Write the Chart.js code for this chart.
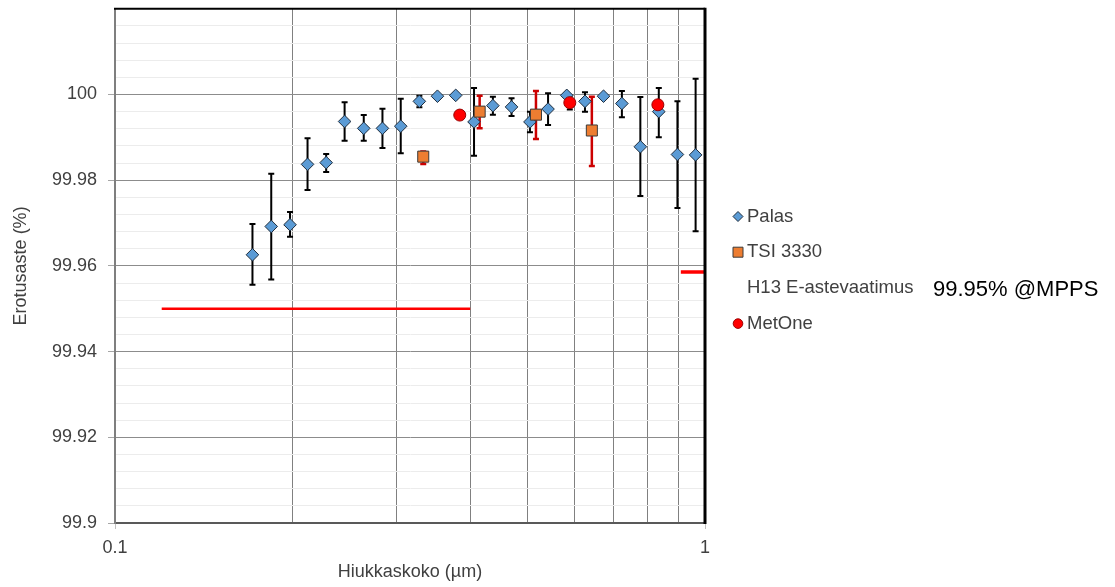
<!DOCTYPE html>
<html>
<head>
<meta charset="utf-8">
<script src="https://cdn.jsdelivr.net/npm/chart.js@4.4.1/dist/chart.umd.min.js"></script>
<style>
  body { margin: 0; background: #fff; }
  #wrap { width: 1115px; height: 587px; }
</style>
</head>
<body>
<div id="wrap"><canvas id="chart" width="1115" height="587"></canvas></div>
<script>
// particle size (µm) and efficiency (%)
const palasSize = [0.171, 0.184, 0.198, 0.212, 0.228, 0.245, 0.264, 0.284, 0.305, 0.328, 0.352, 0.378, 0.406,
    0.437, 0.470, 0.505, 0.542, 0.583, 0.626, 0.673, 0.723, 0.777, 0.835, 0.898, 0.964]
const palasEff = [99.9626, 99.9692, 99.9696, 99.9837, 99.9841, 99.9937, 99.9921, 99.9921, 99.9926, 99.9984, 99.9996,
    99.9998, 99.9936, 99.9974, 99.9971, 99.9936, 99.9966, 99.9998, 99.9984, 99.9996, 99.9979, 99.9878, 99.9960,
    99.9860, 99.9859]
const palasHigh = [99.9698, 99.9815, 99.9726, 99.9898, 99.9861, 99.9982, 99.9952, 99.9967, 99.9990, 99.9997, 99.9996,
    99.9998, 100.0015, 99.9995, 99.9991, 99.9960, 100.0003, 99.9998, 100.0005, 99.9996, 100.0008, 99.9994, 100.0015,
    99.9984, 100.0037]
const palasLow = [99.9556, 99.9568, 99.9668, 99.9777, 99.9819, 99.9892, 99.9892, 99.9875, 99.9863, 99.9970, 99.9996,
    99.9998, 99.9857, 99.9953, 99.9950, 99.9912, 99.9929, 99.9998, 99.9960, 99.9996, 99.9947, 99.9763, 99.9900,
    99.9735, 99.9681]

const tsiSize = [0.333, 0.415, 0.517, 0.643]
const tsiEff = [99.9855, 99.9960, 99.9953, 99.9916]
const tsiHigh = [99.9867, 99.9997, 100.0008, 99.9995]
const tsiLow = [99.9838, 99.9921, 99.9896, 99.9833]

const metSize = [0.384, 0.590, 0.832]
const metEff = [99.9952, 99.9981, 99.9976]
const metHigh = [99.9952, 99.9997, 99.9976]
const metLow = [99.9952, 99.9965, 99.9976]

const limitSize = [0.12, 0.4]
const limitEff = [99.95, 99.95]
const edgeSize = [0.91, 1]
const edgeEff = [99.9586, 99.9586]

const xTickValues = [0.1, 0.2, 0.3, 0.4, 0.5, 0.6, 0.7, 0.8, 0.9, 1]
const xLabelValues = [0.1, 1]
const yLabelValues = [99.9, 99.92, 99.94, 99.96, 99.98, 100]
const yMinorStep = 0.004

const FONT = "'Liberation Sans', Arial, sans-serif"
const TEXT = '#404040'

Chart.defaults.font.family = FONT
Chart.defaults.color = TEXT

const pts = (xs, ys) => xs.map((x, i) => ({ x: x, y: ys[i] }))

function isMajor(v) {
    return Math.abs(v * 50 - Math.round(v * 50)) < 1e-6
}

const yGridTicks = []
for (let v = 99.9; v <= 100.0201; v += yMinorStep) yGridTicks.push(Number(v.toFixed(3)))

const errorBars = {
    id: 'errorBars',
    beforeDatasetsDraw(chart) {
        const c = chart.ctx
        const xs = chart.scales.x, ys = chart.scales.y
        c.save()
        chart.data.datasets.forEach(ds => {
            if (!ds.errLow) return
            c.strokeStyle = ds.errColor
            c.lineWidth = ds.errWidth
            ds.data.forEach((p, i) => {
                const hi = ds.errHigh[i], lo = ds.errLow[i]
                if (hi - lo < 0.0002) return
                const x = xs.getPixelForValue(p.x)
                const y1 = ys.getPixelForValue(hi)
                const y2 = ys.getPixelForValue(lo)
                c.beginPath()
                c.moveTo(x, y1); c.lineTo(x, y2)
                c.moveTo(x - 3, y1); c.lineTo(x + 3, y1)
                c.moveTo(x - 3, y2); c.lineTo(x + 3, y2)
                c.stroke()
            })
        })
        c.restore()
    }
}

const frame = {
    id: 'frame',
    afterDatasetsDraw(chart) {
        const c = chart.ctx
        const { left, top, right, bottom } = chart.chartArea
        c.save()
        c.strokeStyle = '#000'
        c.lineWidth = 2
        c.beginPath(); c.moveTo(left - 1, top); c.lineTo(right, top); c.stroke()
        c.lineWidth = 3
        c.beginPath(); c.moveTo(right, top - 1); c.lineTo(right, bottom + 1); c.stroke()
        c.restore()
    }
}

const sideLegend = {
    id: 'sideLegend',
    afterDraw(chart) {
        const c = chart.ctx
        const items = chart.data.datasets.filter(d => d.legendRow !== undefined)
        c.save()
        items.forEach(ds => {
            const y = 216.5 + ds.legendRow * 35.7
            const x = 738
            c.fillStyle = ds.backgroundColor
            c.strokeStyle = ds.borderColor
            c.lineWidth = 1
            c.beginPath()
            if (ds.pointStyle === 'rectRot') {
                c.moveTo(x, y - 5); c.lineTo(x + 5, y); c.lineTo(x, y + 5); c.lineTo(x - 5, y); c.closePath()
            } else if (ds.pointStyle === 'rect') {
                c.rect(x - 5, y - 5, 10, 10)
            } else if (ds.pointStyle === 'circle') {
                c.arc(x, y, 4.8, 0, Math.PI * 2)
            }
            if (ds.pointRadius > 0) { c.fill(); c.stroke() }
            c.fillStyle = TEXT
            c.font = '18.5px ' + FONT
            c.textBaseline = 'middle'
            c.textAlign = 'left'
            c.fillText(ds.label, 747, y)
        })
        c.fillStyle = '#000'
        c.font = '22px ' + FONT
        c.textBaseline = 'middle'
        c.fillText('99.95% @MPPS', 933, 290)
        c.restore()
    }
}

new Chart(document.getElementById('chart'), {
    type: 'scatter',
    data: {
        datasets: [{
            label: 'Palas',
            legendRow: 0,
            data: pts(palasSize, palasEff),
            errHigh: palasHigh, errLow: palasLow, errColor: '#000', errWidth: 2,
            pointStyle: 'rectRot',
            pointRadius: 6.3,
            backgroundColor: '#5b9bd5',
            borderColor: '#1f2d3d',
            borderWidth: 1,
            order: 4
        }, {
            label: 'TSI 3330',
            legendRow: 1,
            data: pts(tsiSize, tsiEff),
            errHigh: tsiHigh, errLow: tsiLow, errColor: '#cc0000', errWidth: 2.5,
            pointStyle: 'rect',
            pointRadius: 7.8,
            backgroundColor: '#ed7d31',
            borderColor: '#3a3a3a',
            borderWidth: 1,
            order: 3
        }, {
            label: 'H13 E-astevaatimus',
            legendRow: 2,
            data: pts(limitSize, limitEff),
            showLine: true,
            pointRadius: 0,
            borderColor: '#ff0000',
            backgroundColor: '#ff0000',
            borderWidth: 2.5,
            order: 2
        }, {
            label: '',
            data: pts(edgeSize, edgeEff),
            showLine: true,
            pointRadius: 0,
            borderColor: '#ff0000',
            borderWidth: 3.5,
            order: 2
        }, {
            label: 'MetOne',
            legendRow: 3,
            data: pts(metSize, metEff),
            errHigh: metHigh, errLow: metLow, errColor: '#000', errWidth: 2,
            pointStyle: 'circle',
            pointRadius: 6,
            backgroundColor: '#ff0000',
            borderColor: '#9a0000',
            borderWidth: 1,
            order: 1
        }]
    },
    options: {
        responsive: false,
        animation: false,
        layout: { padding: { left: 6, top: 7, right: 410, bottom: 0 } },
        plugins: {
            legend: { display: false },
            tooltip: { enabled: false }
        },
        scales: {
            x: {
                type: 'logarithmic',
                position: 'bottom',
                min: 0.1,
                max: 1,
                afterBuildTicks: s => { s.ticks = xTickValues.map(v => ({ value: v })) },
                afterFit: s => { s.height = 64 },
                ticks: {
                    autoSkip: false,
                    maxRotation: 0,
                    padding: 8,
                    color: TEXT,
                    font: { size: 18 },
                    callback: v => xLabelValues.includes(v) ? String(v) : ''
                },
                grid: {
                    color: ctx => xLabelValues.includes(ctx.tick.value) ? 'rgba(0,0,0,0)' : '#808080',
                    tickColor: ctx => xLabelValues.includes(ctx.tick.value) ? '#c0c0c0' : 'rgba(0,0,0,0)',
                    tickLength: 6,
                    lineWidth: 1
                },
                border: { color: '#595959', width: 2 },
                title: {
                    display: true,
                    text: 'Hiukkaskoko (µm)',
                    color: TEXT,
                    font: { size: 18 },
                    padding: { top: 4, bottom: 4 }
                }
            },
            y: {
                type: 'linear',
                min: 99.9,
                max: 100.02,
                afterBuildTicks: s => { s.ticks = yGridTicks.map(v => ({ value: v })) },
                afterFit: s => { s.width = 109; s.paddingTop = 0; s.paddingBottom = 0 },
                ticks: {
                    autoSkip: false,
                    padding: 11,
                    color: TEXT,
                    font: { size: 18 },
                    callback: v => yLabelValues.includes(v) ? String(v) : ''
                },
                grid: {
                    color: ctx => isMajor(ctx.tick.value) ? '#8c8c8c' : '#ececec',
                    tickColor: ctx => yLabelValues.includes(ctx.tick.value) ? '#a6a6a6' : 'rgba(0,0,0,0)',
                    tickLength: 7,
                    lineWidth: 1
                },
                border: { color: '#7f7f7f', width: 2 },
                title: {
                    display: true,
                    text: 'Erotusaste (%)',
                    color: TEXT,
                    font: { size: 18 },
                    padding: { top: 4, bottom: 4 }
                }
            }
        }
    },
    plugins: [errorBars, frame, sideLegend]
})
</script>
</body>
</html>
